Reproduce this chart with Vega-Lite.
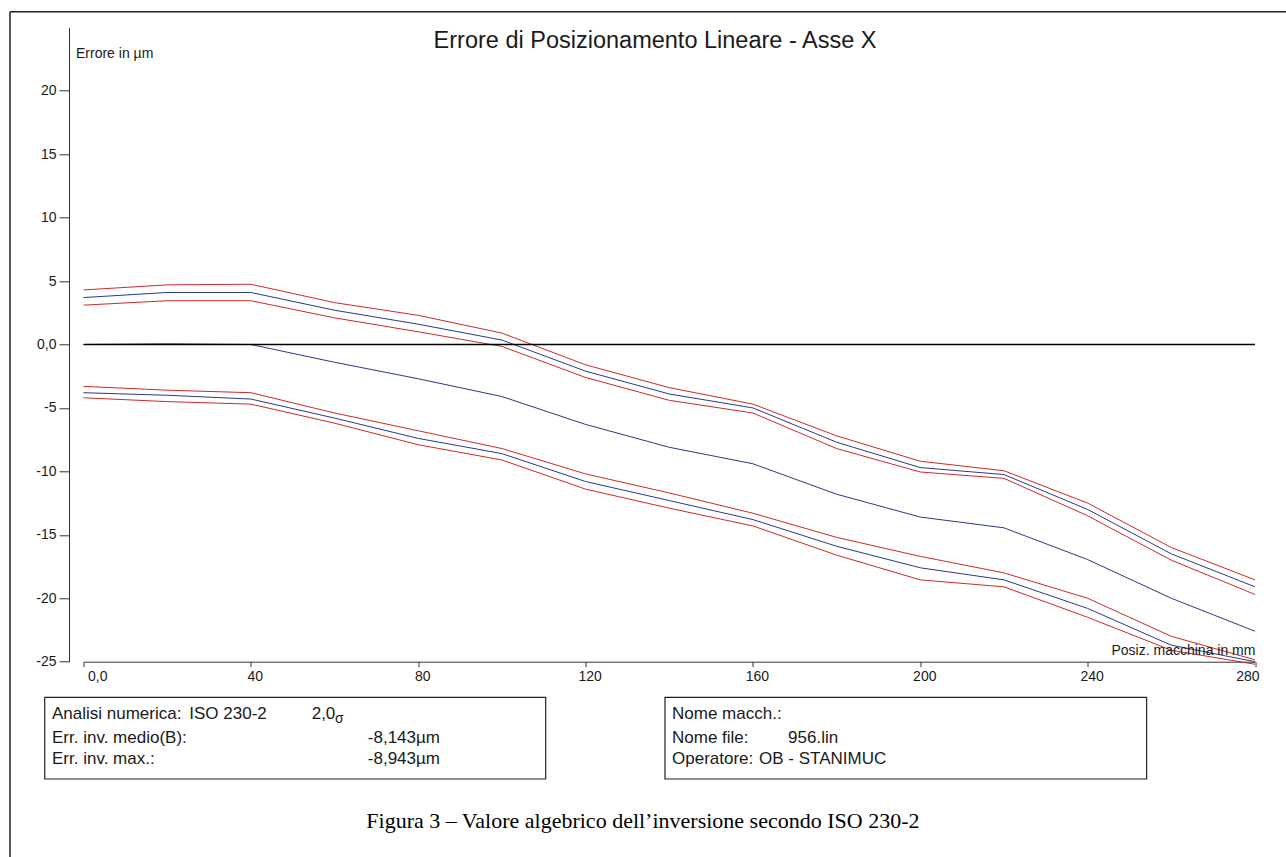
{
  "$schema": "https://vega.github.io/schema/vega-lite/v6.json",
  "width": 1171.5,
  "height": 634.4,
  "autosize": {"type": "none"},
  "padding": {"left": 83.5, "top": 27.3, "right": 31, "bottom": 195.3},
  "background": "white",
  "config": {
    "view": {"stroke": null},
    "font": "Liberation Sans",
    "text": {"font": "Liberation Sans", "color": "#1a1a1a"},
    "axis": {"grid": false, "domainColor": "#333333", "tickColor": "#333333", "labelColor": "#1a1a1a", "labelFont": "Liberation Sans", "labelFontSize": 14}
  },
  "data": {"values": [{"k": 1}]},
  "datasets": {
    "curves": [
      {"pos": 0, "serie": "sup_max", "err": 4.3}, {"pos": 20, "serie": "sup_max", "err": 4.7}, {"pos": 40, "serie": "sup_max", "err": 4.75}, {"pos": 60, "serie": "sup_max", "err": 3.3}, {"pos": 80, "serie": "sup_max", "err": 2.3}, {"pos": 100, "serie": "sup_max", "err": 0.9}, {"pos": 120, "serie": "sup_max", "err": -1.6}, {"pos": 140, "serie": "sup_max", "err": -3.4}, {"pos": 160, "serie": "sup_max", "err": -4.7}, {"pos": 180, "serie": "sup_max", "err": -7.2}, {"pos": 200, "serie": "sup_max", "err": -9.2}, {"pos": 220, "serie": "sup_max", "err": -9.95}, {"pos": 240, "serie": "sup_max", "err": -12.5}, {"pos": 260, "serie": "sup_max", "err": -16.0}, {"pos": 280, "serie": "sup_max", "err": -18.55},
      {"pos": 0, "serie": "sup_med", "err": 3.7}, {"pos": 20, "serie": "sup_med", "err": 4.1}, {"pos": 40, "serie": "sup_med", "err": 4.1}, {"pos": 60, "serie": "sup_med", "err": 2.7}, {"pos": 80, "serie": "sup_med", "err": 1.6}, {"pos": 100, "serie": "sup_med", "err": 0.35}, {"pos": 120, "serie": "sup_med", "err": -2.1}, {"pos": 140, "serie": "sup_med", "err": -3.9}, {"pos": 160, "serie": "sup_med", "err": -5.0}, {"pos": 180, "serie": "sup_med", "err": -7.7}, {"pos": 200, "serie": "sup_med", "err": -9.7}, {"pos": 220, "serie": "sup_med", "err": -10.25}, {"pos": 240, "serie": "sup_med", "err": -13.0}, {"pos": 260, "serie": "sup_med", "err": -16.5}, {"pos": 280, "serie": "sup_med", "err": -19.1},
      {"pos": 0, "serie": "sup_min", "err": 3.1}, {"pos": 20, "serie": "sup_min", "err": 3.45}, {"pos": 40, "serie": "sup_min", "err": 3.45}, {"pos": 60, "serie": "sup_min", "err": 2.1}, {"pos": 80, "serie": "sup_min", "err": 1.0}, {"pos": 100, "serie": "sup_min", "err": -0.15}, {"pos": 120, "serie": "sup_min", "err": -2.6}, {"pos": 140, "serie": "sup_min", "err": -4.4}, {"pos": 160, "serie": "sup_min", "err": -5.4}, {"pos": 180, "serie": "sup_min", "err": -8.2}, {"pos": 200, "serie": "sup_min", "err": -10.05}, {"pos": 220, "serie": "sup_min", "err": -10.55}, {"pos": 240, "serie": "sup_min", "err": -13.5}, {"pos": 260, "serie": "sup_min", "err": -17.0}, {"pos": 280, "serie": "sup_min", "err": -19.7},
      {"pos": 0, "serie": "medio", "err": 0.0}, {"pos": 20, "serie": "medio", "err": 0.05}, {"pos": 40, "serie": "medio", "err": 0.0}, {"pos": 60, "serie": "medio", "err": -1.4}, {"pos": 80, "serie": "medio", "err": -2.7}, {"pos": 100, "serie": "medio", "err": -4.1}, {"pos": 120, "serie": "medio", "err": -6.3}, {"pos": 140, "serie": "medio", "err": -8.1}, {"pos": 160, "serie": "medio", "err": -9.4}, {"pos": 180, "serie": "medio", "err": -11.8}, {"pos": 200, "serie": "medio", "err": -13.6}, {"pos": 220, "serie": "medio", "err": -14.45}, {"pos": 240, "serie": "medio", "err": -16.95}, {"pos": 260, "serie": "medio", "err": -20.0}, {"pos": 280, "serie": "medio", "err": -22.6},
      {"pos": 0, "serie": "inf_max", "err": -3.3}, {"pos": 20, "serie": "inf_max", "err": -3.6}, {"pos": 40, "serie": "inf_max", "err": -3.8}, {"pos": 60, "serie": "inf_max", "err": -5.4}, {"pos": 80, "serie": "inf_max", "err": -6.8}, {"pos": 100, "serie": "inf_max", "err": -8.2}, {"pos": 120, "serie": "inf_max", "err": -10.2}, {"pos": 140, "serie": "inf_max", "err": -11.7}, {"pos": 160, "serie": "inf_max", "err": -13.3}, {"pos": 180, "serie": "inf_max", "err": -15.2}, {"pos": 200, "serie": "inf_max", "err": -16.7}, {"pos": 220, "serie": "inf_max", "err": -18.0}, {"pos": 240, "serie": "inf_max", "err": -20.0}, {"pos": 260, "serie": "inf_max", "err": -23.0}, {"pos": 280, "serie": "inf_max", "err": -24.85},
      {"pos": 0, "serie": "inf_med", "err": -3.8}, {"pos": 20, "serie": "inf_med", "err": -4.0}, {"pos": 40, "serie": "inf_med", "err": -4.3}, {"pos": 60, "serie": "inf_med", "err": -5.8}, {"pos": 80, "serie": "inf_med", "err": -7.4}, {"pos": 100, "serie": "inf_med", "err": -8.6}, {"pos": 120, "serie": "inf_med", "err": -10.8}, {"pos": 140, "serie": "inf_med", "err": -12.3}, {"pos": 160, "serie": "inf_med", "err": -13.8}, {"pos": 180, "serie": "inf_med", "err": -15.9}, {"pos": 200, "serie": "inf_med", "err": -17.6}, {"pos": 220, "serie": "inf_med", "err": -18.55}, {"pos": 240, "serie": "inf_med", "err": -20.8}, {"pos": 260, "serie": "inf_med", "err": -23.7}, {"pos": 280, "serie": "inf_med", "err": -25.0},
      {"pos": 0, "serie": "inf_min", "err": -4.2}, {"pos": 20, "serie": "inf_min", "err": -4.5}, {"pos": 40, "serie": "inf_min", "err": -4.7}, {"pos": 60, "serie": "inf_min", "err": -6.2}, {"pos": 80, "serie": "inf_min", "err": -7.9}, {"pos": 100, "serie": "inf_min", "err": -9.1}, {"pos": 120, "serie": "inf_min", "err": -11.4}, {"pos": 140, "serie": "inf_min", "err": -12.9}, {"pos": 160, "serie": "inf_min", "err": -14.3}, {"pos": 180, "serie": "inf_min", "err": -16.6}, {"pos": 200, "serie": "inf_min", "err": -18.55}, {"pos": 220, "serie": "inf_min", "err": -19.1}, {"pos": 240, "serie": "inf_min", "err": -21.5}, {"pos": 260, "serie": "inf_min", "err": -24.1}, {"pos": 280, "serie": "inf_min", "err": -25.2}
    ]
  },
  "layer": [
    {
      "data": {"name": "curves"},
      "mark": {"type": "line", "strokeWidth": 1, "clip": false},
      "encoding": {
        "x": {"field": "pos", "type": "quantitative", "scale": {"domain": [0, 280], "nice": false, "zero": false},
          "axis": {"values": [0, 40, 80, 120, 160, 200, 240, 280], "title": null, "tickSize": 5, "labelPadding": 3, "labelOffset": 4, "labelExpr": "datum.value == 0 ? '0,0' : toString(datum.value)"}},
        "y": {"field": "err", "type": "quantitative", "scale": {"domain": [-25, 25], "nice": false, "zero": false},
          "axis": {"values": [-25, -20, -15, -10, -5, 0, 5, 10, 15, 20], "title": null, "offset": 14.5, "tickSize": 10, "labelPadding": 3, "labelExpr": "datum.value == 0 ? '0,0' : toString(datum.value)"}},
        "detail": {"field": "serie"},
        "color": {"field": "serie", "type": "nominal", "legend": null,
          "scale": {"domain": ["sup_max", "sup_med", "sup_min", "medio", "inf_max", "inf_med", "inf_min"],
                    "range": ["#cc2a2a", "#2a3a88", "#cc2a2a", "#2a3a88", "#cc2a2a", "#2a3a88", "#cc2a2a"]}}
      }
    },
    {
      "mark": {"type": "rule", "color": "#000000", "strokeWidth": 1.5},
      "encoding": {"x": {"datum": 0, "type": "quantitative"}, "x2": {"datum": 280}, "y": {"datum": 0, "type": "quantitative"}}
    },
    {
      "mark": {"type": "rule", "color": "#222222", "strokeWidth": 1.5, "clip": false},
      "encoding": {"x": {"datum": -17.57, "type": "quantitative"}, "x2": {"datum": 290}, "y": {"datum": 26.23, "type": "quantitative"}}
    },
    {
      "mark": {"type": "rule", "color": "#222222", "strokeWidth": 1.5, "clip": false},
      "encoding": {"x": {"datum": -17.57, "type": "quantitative"}, "y": {"datum": 26.23, "type": "quantitative"}, "y2": {"datum": -41}}
    },
    {
      "mark": {"type": "rect", "fill": null, "fillOpacity": 0, "stroke": "#222222", "strokeWidth": 1.2, "clip": false},
      "encoding": {"x": {"datum": -9.27, "type": "quantitative"}, "x2": {"datum": 110.47}, "y": {"datum": -27.805, "type": "quantitative"}, "y2": {"datum": -34.243}}
    },
    {
      "mark": {"type": "rect", "fill": null, "fillOpacity": 0, "stroke": "#222222", "strokeWidth": 1.2, "clip": false},
      "encoding": {"x": {"datum": 138.98, "type": "quantitative"}, "x2": {"datum": 254.1}, "y": {"datum": -27.805, "type": "quantitative"}, "y2": {"datum": -34.243}}
    },
    {
      "mark": {"type": "text", "text": "Errore di Posizionamento Lineare - Asse X", "fontSize": 23.5, "align": "center", "baseline": "alphabetic"},
      "encoding": {"x": {"datum": 136.6, "type": "quantitative"}, "y": {"datum": 23.34, "type": "quantitative"}}
    },
    {
      "mark": {"type": "text", "text": "Errore in µm", "fontSize": 14, "align": "left", "baseline": "alphabetic"},
      "encoding": {"x": {"datum": -1.79, "type": "quantitative"}, "y": {"datum": 22.55, "type": "quantitative"}}
    },
    {
      "mark": {"type": "text", "text": "Posiz. macchina in mm", "fontSize": 14, "align": "right", "baseline": "alphabetic"},
      "encoding": {"x": {"datum": 280.1, "type": "quantitative"}, "y": {"datum": -24.47, "type": "quantitative"}}
    },
    {
      "mark": {"type": "text", "text": "Analisi numerica:", "fontSize": 17, "align": "left", "baseline": "alphabetic"},
      "encoding": {"x": {"datum": -7.53, "type": "quantitative"}, "y": {"datum": -29.55, "type": "quantitative"}}
    },
    {
      "mark": {"type": "text", "text": "ISO 230-2", "fontSize": 17, "align": "left", "baseline": "alphabetic"},
      "encoding": {"x": {"datum": 25.29, "type": "quantitative"}, "y": {"datum": -29.55, "type": "quantitative"}}
    },
    {
      "mark": {"type": "text", "text": "2,0", "fontSize": 17, "align": "left", "baseline": "alphabetic"},
      "encoding": {"x": {"datum": 54.54, "type": "quantitative"}, "y": {"datum": -29.55, "type": "quantitative"}}
    },
    {
      "mark": {"type": "text", "text": "σ", "fontSize": 14, "align": "left", "baseline": "alphabetic"},
      "encoding": {"x": {"datum": 60.11, "type": "quantitative"}, "y": {"datum": -29.84, "type": "quantitative"}}
    },
    {
      "mark": {"type": "text", "text": "Err. inv. medio(B):", "fontSize": 17, "align": "left", "baseline": "alphabetic"},
      "encoding": {"x": {"datum": -7.53, "type": "quantitative"}, "y": {"datum": -31.44, "type": "quantitative"}}
    },
    {
      "mark": {"type": "text", "text": "-8,143µm", "fontSize": 17, "align": "left", "baseline": "alphabetic"},
      "encoding": {"x": {"datum": 67.95, "type": "quantitative"}, "y": {"datum": -31.44, "type": "quantitative"}}
    },
    {
      "mark": {"type": "text", "text": "Err. inv. max.:", "fontSize": 17, "align": "left", "baseline": "alphabetic"},
      "encoding": {"x": {"datum": -7.53, "type": "quantitative"}, "y": {"datum": -33.09, "type": "quantitative"}}
    },
    {
      "mark": {"type": "text", "text": "-8,943µm", "fontSize": 17, "align": "left", "baseline": "alphabetic"},
      "encoding": {"x": {"datum": 67.95, "type": "quantitative"}, "y": {"datum": -33.09, "type": "quantitative"}}
    },
    {
      "mark": {"type": "text", "text": "Nome macch.:", "fontSize": 17, "align": "left", "baseline": "alphabetic"},
      "encoding": {"x": {"datum": 140.66, "type": "quantitative"}, "y": {"datum": -29.55, "type": "quantitative"}}
    },
    {
      "mark": {"type": "text", "text": "Nome file:", "fontSize": 17, "align": "left", "baseline": "alphabetic"},
      "encoding": {"x": {"datum": 140.66, "type": "quantitative"}, "y": {"datum": -31.44, "type": "quantitative"}}
    },
    {
      "mark": {"type": "text", "text": "956.lin", "fontSize": 17, "align": "left", "baseline": "alphabetic"},
      "encoding": {"x": {"datum": 168.4, "type": "quantitative"}, "y": {"datum": -31.44, "type": "quantitative"}}
    },
    {
      "mark": {"type": "text", "text": "Operatore:", "fontSize": 17, "align": "left", "baseline": "alphabetic"},
      "encoding": {"x": {"datum": 140.66, "type": "quantitative"}, "y": {"datum": -33.09, "type": "quantitative"}}
    },
    {
      "mark": {"type": "text", "text": "OB - STANIMUC", "fontSize": 17, "align": "left", "baseline": "alphabetic"},
      "encoding": {"x": {"datum": 161.45, "type": "quantitative"}, "y": {"datum": -33.09, "type": "quantitative"}}
    },
    {
      "mark": {"type": "text", "text": "Figura 3 – Valore algebrico dell’inversione secondo ISO 230-2", "font": "Liberation Serif", "fontSize": 22, "align": "center", "baseline": "alphabetic", "color": "#000000"},
      "encoding": {"x": {"datum": 133.7, "type": "quantitative"}, "y": {"datum": -38.1, "type": "quantitative"}}
    }
  ]
}
